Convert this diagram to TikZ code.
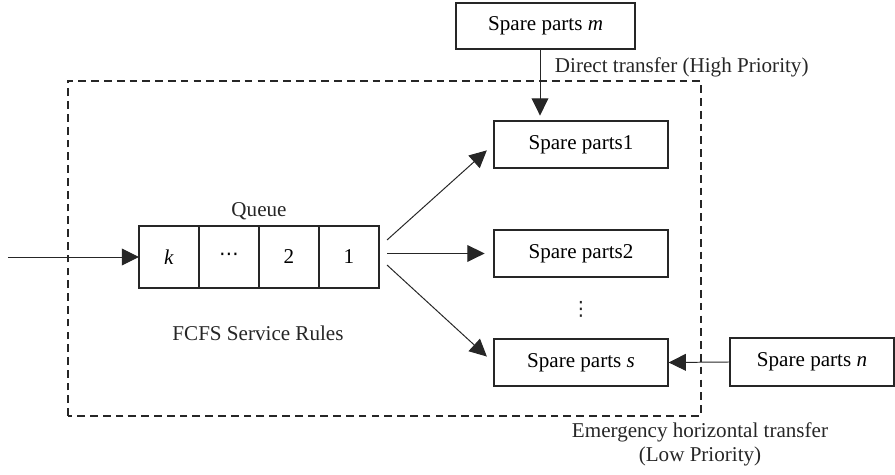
\documentclass[tikz,border=0pt]{standalone}
\usepackage{fontspec}
\setmainfont{Liberation Serif}
\newfontfamily\symfont{DejaVu Sans}
\usetikzlibrary{arrows.meta,positioning}

\begin{document}
\begin{tikzpicture}[
    % node styles
    part/.style={rectangle, draw=black!85, line width=0.9pt, minimum width=4.35cm, minimum height=1.175cm, font=\fontsize{15pt}{17pt}\selectfont},
    cell/.style={rectangle, draw=black!85, line width=0.9pt, minimum width=1.5cm, minimum height=1.55cm, outer sep=0pt, font=\fontsize{15pt}{17pt}\selectfont},
    note/.style={font=\fontsize{15pt}{17pt}\selectfont, text=black!85},
    frame/.style={draw=black!85, line width=0.8pt, dash pattern=on 5.5pt off 3.6pt},
    flow/.style={-{Triangle[length=4.3mm, width=4.2mm]}, line width=0.7pt, black!85}
]
\useasboundingbox (0,0) rectangle (22.375,11.875);

% Service area
\draw[frame] (1.7,1.475) rectangle (17.525,9.85);

% Spare parts pool
\node[part, minimum width=4.475cm, minimum height=1.15cm] (spm) at (13.64, 11.225) {Spare parts \textit{m}};
\node[part] (sp1) at (14.525, 8.2625) {Spare parts1};
\node[part] (sp2) at (14.525, 5.5375) {Spare parts2};
\node[note, font=\symfont\fontsize{14pt}{16pt}\selectfont] (vd) at (14.525, 4.15) {⋮};
\node[part] (sps) at (14.525, 2.8125) {Spare parts \textit{s}};
\node[part, minimum width=4.1cm, minimum height=1.2cm] (spn) at (20.3, 2.825) {Spare parts \textit{n}};

% Queue
\node[cell] (k) at (4.225, 5.45) {\textit{k}};
\node[cell, right=0pt of k, font=\symfont\fontsize{14pt}{16pt}\selectfont] (dots) {\raisebox{-0.1em}{⋯}};
\node[cell, right=0pt of dots] (two) {2};
\node[cell, right=0pt of two] (one) {1};
\node[note] (qlabel) at (6.475, 6.6) {Queue};
\node[note] (rules) at (6.45, 3.55) {FCFS Service Rules};

% Labels
\node[note, anchor=west] (direct) at (13.75, 10.2) {Direct transfer (High Priority)};
\node[note, align=center] (emerg) at (17.5, 0.775) {Emergency horizontal transfer\\(Low Priority)};

% Arrivals
\coordinate (src) at (0.2, 5.45);
\draw[flow] (src) -- (k);

% Dispatch
\draw[flow, shorten >=0.22cm] ([shift={(0.2cm,0.425cm)}]one.east) -- (sp1.west);
\draw[flow, shorten <=0.2cm, shorten >=0.22cm] (one.east |- sp2.west) -- (sp2.west);
\draw[flow, shorten >=0.22cm] ([shift={(0.2cm,-0.2cm)}]one.east) -- (sps.west);

% Transfers
\coordinate (mdrop) at ([xshift=-0.14cm]spm.south);
\draw[flow, shorten >=0.12cm] (mdrop) -- (mdrop |- sp1.north);
\draw[flow] (spn.west) -- (sps.east);

\end{tikzpicture}
\end{document}
